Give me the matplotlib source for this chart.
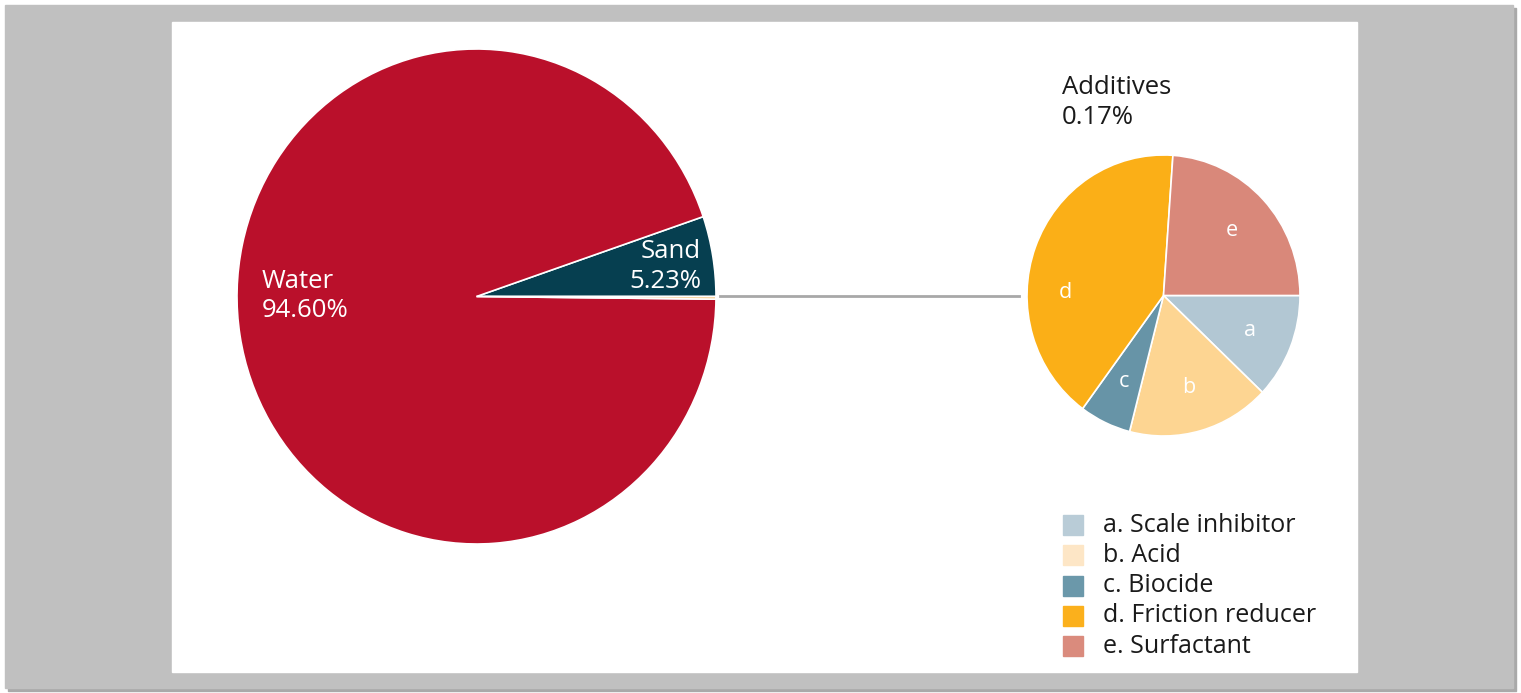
import matplotlib.pyplot as plt
from matplotlib.patches import Rectangle

plt.rcParams['font.family'] = ['Open Sans', 'DejaVu Sans']

# main mixture
main_labels = ["Sand", "Water", "Additives"]
main_values = [5.23, 94.60, 0.17]
main_colors = ["#063f50", "#ba102b", "#f4c27a"]

# additives breakdown
add_keys = ["a", "b", "c", "d", "e"]
add_names = ["Scale inhibitor", "Acid", "Biocide", "Friction reducer", "Surfactant"]
add_values = [12.1, 16.9, 6.1, 41.0, 23.9]
add_colors = ["#b2c7d3", "#fdd592", "#6794a7", "#fbaf17", "#d9887a"]
legend_colors = ["#b9ccd7", "#fde6c6", "#6b98aa", "#fbb01c", "#da8b7d"]

W, H = 1521, 693
fig = plt.figure(figsize=(W / 100, H / 100), dpi=100)


def px_axes(x0, y0, x1, y1):
    # axes placed by image pixel box (y measured from top)
    return fig.add_axes([x0 / W, (H - y1) / H, (x1 - x0) / W, (y1 - y0) / H])


def Y(y):
    return H - y


# background frame
bg = fig.add_axes([0, 0, 1, 1])
bg.set_xlim(0, W)
bg.set_ylim(0, H)
bg.axis("off")
bg.add_patch(Rectangle((8, Y(691)), 1508, 683, color="#a9a9a9"))
bg.add_patch(Rectangle((5, Y(688)), 1508, 683, color="#c0c0c0"))
bg.add_patch(Rectangle((172, Y(672)), 1185, 650, color="white"))

# big pie (the source image is slightly stretched vertically)
ax1 = px_axes(237, 49, 716, 544)
ax1.pie(main_values, colors=main_colors, startangle=0, counterclock=True,
        radius=1, wedgeprops=dict(edgecolor="white", linewidth=1.2))
ax1.set_xlim(-1, 1)
ax1.set_ylim(-1, 1)
ax1.set_aspect("auto")
ax1.axis("off")

# small pie
ax2 = px_axes(1027, 155, 1300, 436)
wedges, texts = ax2.pie(add_values, colors=add_colors, labels=add_keys,
                        startangle=0, counterclock=False, radius=1,
                        labeldistance=0.68,
                        textprops=dict(color="white", fontsize=15.5),
                        wedgeprops=dict(edgecolor="white", linewidth=1.2))
texts[3].set_position((-0.72, 0.02))
for t in texts:
    t.set_ha("center")
    t.set_va("center")
ax2.set_xlim(-1, 1)
ax2.set_ylim(-1, 1)
ax2.set_aspect("auto")
ax2.axis("off")

# overlay for texts, connector and legend
ov = fig.add_axes([0, 0, 1, 1])
ov.set_xlim(0, W)
ov.set_ylim(0, H)
ov.axis("off")

fs = 18.5
ov.text(262, Y(288), "Water", color="white", fontsize=fs, ha="left", va="baseline")
ov.text(262, Y(317), "94.60%", color="white", fontsize=fs, ha="left", va="baseline")
ov.text(701, Y(258), "Sand", color="white", fontsize=fs, ha="right", va="baseline")
ov.text(701, Y(288), "5.23%", color="white", fontsize=fs, ha="right", va="baseline")

ov.plot([720, 1019], [Y(296), Y(296)], color="#a8a8a8", lw=2)

ov.text(1062, Y(94), "Additives", color="#1a1a1a", fontsize=fs, ha="left", va="baseline")
ov.text(1062, Y(124), "0.17%", color="#1a1a1a", fontsize=fs, ha="left", va="baseline")

for i, (k, n, c) in enumerate(zip(add_keys, add_names, legend_colors)):
    yy = 525 + i * 30.3
    ov.add_patch(Rectangle((1063, Y(yy + 10)), 20, 20, color=c))
    ov.text(1103, Y(yy), f"{k}. {n}", color="#1a1a1a", fontsize=18,
            ha="left", va="center")

fig.savefig("out.png", dpi=100)
